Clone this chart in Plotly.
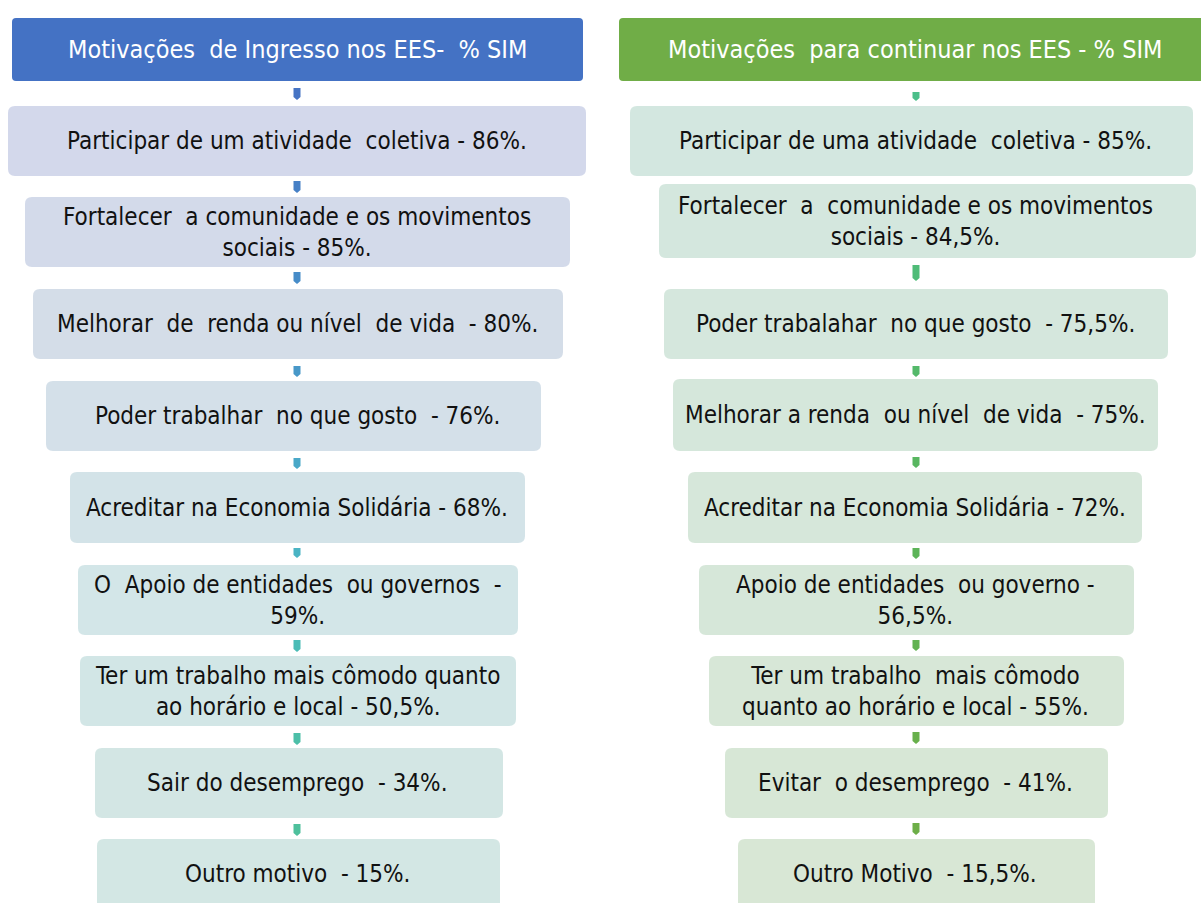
import plotly.graph_objects as go

# ---------------- content ----------------
left_title = "Motivações  de Ingresso nos EES-  % SIM"
right_title = "Motivações  para continuar nos EES - % SIM"

left_labels = [
    "Participar de um atividade  coletiva - 86%.",
    "Fortalecer  a comunidade e os movimentos<br>sociais - 85%.",
    "Melhorar  de  renda ou nível  de vida  - 80%.",
    "Poder trabalhar  no que gosto  - 76%.",
    "Acreditar na Economia Solidária - 68%.",
    "O  Apoio de entidades  ou governos  -<br>59%.",
    "Ter um trabalho mais cômodo quanto<br>ao horário e local - 50,5%.",
    "Sair do desemprego  - 34%.",
    "Outro motivo  - 15%.",
]
right_labels = [
    "Participar de uma atividade  coletiva - 85%.",
    "Fortalecer  a  comunidade e os movimentos<br>sociais - 84,5%.",
    "Poder trabalahar  no que gosto  - 75,5%.",
    "Melhorar a renda  ou nível  de vida  - 75%.",
    "Acreditar na Economia Solidária - 72%.",
    "Apoio de entidades  ou governo -<br>56,5%.",
    "Ter um trabalho  mais cômodo<br>quanto ao horário e local - 55%.",
    "Evitar  o desemprego  - 41%.",
    "Outro Motivo  - 15,5%.",
]

# ---------------- geometry (pixel-like data coords) ----------------
W, H = 1201, 903
left_header = (12, 583, 18, 81)
right_header = (619, 1215, 18, 81)
left_boxes = [
    (8, 586, 106, 176), (25, 570, 197, 267), (33, 563, 289, 359),
    (46, 541, 381, 451), (70, 525, 472, 543), (78, 518, 565, 635),
    (80, 516, 656, 726), (95, 503, 748, 818), (97, 500, 839, 909),
]
right_boxes = [
    (630, 1193, 106, 176), (659, 1196, 184, 258), (664, 1168, 289, 359),
    (673, 1158, 379, 451), (688, 1142, 472, 543), (699, 1134, 565, 635),
    (709, 1124, 656, 726), (725, 1108, 748, 818), (738, 1095, 839, 909),
]
left_text_x = 297
right_text_x = 915
left_conn_x = 297
right_conn_x = 916
left_conns = [(88, 100), (181, 193), (272, 284), (366, 377), (458, 469),
              (548, 558), (640, 652), (733, 745), (824, 836)]
right_conns = [(92, 101), (265, 281), (366, 377), (457, 468), (548, 559),
               (640, 651), (732, 744), (823, 835)]

# ---------------- styles ----------------
left_header_color = "#4472C4"
right_header_color = "#70AD47"
left_fills = ["#D3D8EB", "#D3DAEA", "#D4DDE8", "#D4E0E9", "#D3E3E8",
              "#D3E6E8", "#D2E6E6", "#D3E6E4", "#D3E7E4"]
right_fills = ["#D3E7E0", "#D4E7DE", "#D5E7DD", "#D5E7DB", "#D6E7DA",
               "#D6E7D9", "#D7E7D7", "#D7E7D6", "#D8E7D5"]
left_conn_colors = ["#4674C4", "#4680C6", "#478CC8", "#4898C8", "#49A8C8",
                    "#4AB4C4", "#4BBCB6", "#4CBFA8", "#4EC09C"]
right_conn_colors = ["#4CBF8A", "#4FBC78", "#54B96A", "#58B660", "#5CB458",
                     "#62B252", "#68B04C", "#6DAE48"]
FONT = "Liberation Sans Narrow, Arial Narrow, DejaVu Sans Condensed, sans-serif"


def rrect(x0, x1, y0, y1, r=6):
    return (f"M {x0+r},{y0} L {x1-r},{y0} Q {x1},{y0} {x1},{y0+r} "
            f"L {x1},{y1-r} Q {x1},{y1} {x1-r},{y1} L {x0+r},{y1} "
            f"Q {x0},{y1} {x0},{y1-r} L {x0},{y0+r} Q {x0},{y0} {x0+r},{y0} Z")


def arrow(x, y0, y1, w=3.5):
    return (f"M {x-w},{y0} L {x+w},{y0} L {x+w},{y1-3} L {x},{y1} "
            f"L {x-w},{y1-3} Z")


fig = go.Figure()
fig.add_trace(go.Scatter(x=[0, W], y=[0, H], mode="markers",
                         marker=dict(opacity=0), hoverinfo="skip",
                         showlegend=False))

shapes = []
annotations = []

for (x0, x1, y0, y1), col, title, tx in [
        (left_header, left_header_color, left_title, left_text_x),
        (right_header, right_header_color, right_title, right_text_x)]:
    shapes.append(dict(type="path", path=rrect(x0, x1, y0, y1, 4),
                       xref="x", yref="y", fillcolor=col,
                       line=dict(width=0), layer="below"))
    annotations.append(dict(x=tx, y=(y0 + y1) / 2, xref="x", yref="y",
                            text=title, showarrow=False,
                            font=dict(family=FONT, size=25, color="white")))

for boxes, fills, labels, tx in [
        (left_boxes, left_fills, left_labels, left_text_x),
        (right_boxes, right_fills, right_labels, right_text_x)]:
    for (x0, x1, y0, y1), fc, lab in zip(boxes, fills, labels):
        shapes.append(dict(type="path", path=rrect(x0, x1, y0, y1, 7),
                           xref="x", yref="y", fillcolor=fc,
                           line=dict(width=0), layer="below"))
        annotations.append(dict(x=tx, y=(y0 + y1) / 2, xref="x", yref="y",
                                text=lab, showarrow=False,
                                font=dict(family=FONT, size=24,
                                          color="#111111")))

for cx, conns, cols in [(left_conn_x, left_conns, left_conn_colors),
                        (right_conn_x, right_conns, right_conn_colors)]:
    for (y0, y1), c in zip(conns, cols):
        shapes.append(dict(type="path", path=arrow(cx, y0, y1),
                           xref="x", yref="y", fillcolor=c,
                           line=dict(width=0), layer="below"))

fig.update_layout(
    width=W, height=H,
    margin=dict(l=0, r=0, t=0, b=0),
    paper_bgcolor="white", plot_bgcolor="white",
    xaxis=dict(range=[0, W], visible=False, fixedrange=True),
    yaxis=dict(range=[H, 0], visible=False, fixedrange=True),
    shapes=shapes, annotations=annotations,
    showlegend=False,
)

fig.write_html(
    "out.html",
    config={"displayModeBar": False},
    post_script="document.body.style.margin='0';"
                "document.body.style.overflow='hidden';",
)
